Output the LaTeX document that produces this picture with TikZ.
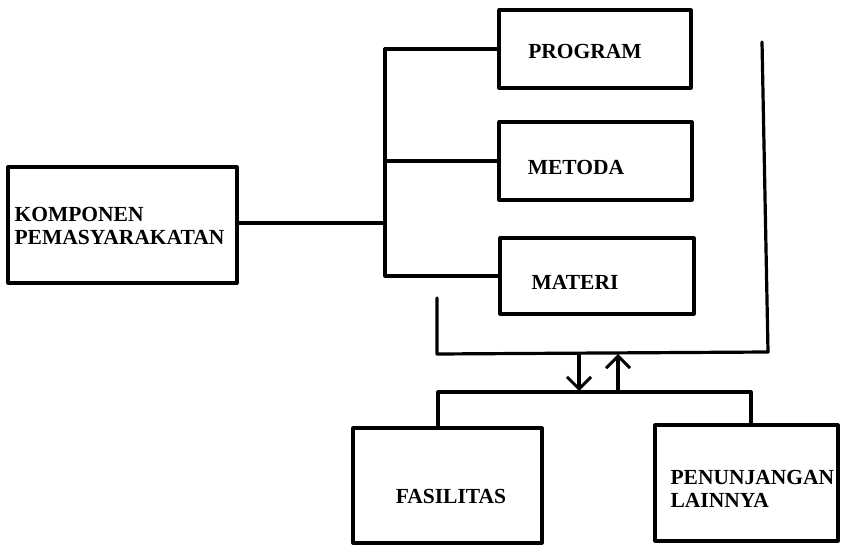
\documentclass[tikz,border=0pt]{standalone}
\usepackage{fontspec}
\setmainfont{Liberation Serif}
\usetikzlibrary{arrows.meta}
\begin{document}
\begin{tikzpicture}[x=1pt,y=-1pt,
  line width=3.2pt, line cap=round, line join=round,
  box/.style={draw, rectangle, inner sep=0pt},
  lbl/.style={inner sep=0pt, font=\bfseries\fontsize{21.5}{23}\selectfont, align=left},
  arr/.style={-{Straight Barb[length=12pt,width=24pt,line width=3pt]}}]
\useasboundingbox (0,0) rectangle (845,545);
% boxes
\node[box, minimum width=229pt, minimum height=116pt] (KOM) at (122.5,225) {};
\node[box, minimum width=192pt, minimum height=78pt] (PROG) at (595,49) {};
\node[box, minimum width=193pt, minimum height=78pt] (MET) at (595.5,161) {};
\node[box, minimum width=194pt, minimum height=76pt] (MAT) at (597,276) {};
\node[box, minimum width=189pt, minimum height=115pt] (FAS) at (447.5,485.5) {};
\node[box, minimum width=183pt, minimum height=116pt] (PEN) at (746.5,483) {};
% labels
\node[lbl, anchor=west] (tKOM) at (13,226) {KOMPONEN\\PEMASYARAKATAN};
\node[lbl] (tPROG) at (585,51) {PROGRAM};
\node[lbl] (tMET) at (576,167) {METODA};
\node[lbl] (tMAT) at (575,282) {MATERI};
\node[lbl] (tFAS) at (451,496) {FASILITAS};
\node[lbl, anchor=west] (tPEN) at (669,489) {PENUNJANGAN\\LAINNYA};
% bus
\coordinate (B) at (385,223);
\draw (KOM.east |- B) -- (B);
\draw (PROG.west) -- (PROG.west -| B) -- (MAT.west -| B) -- (MAT.west);
\draw (MET.west -| B) -- (MET.west);
% right line and bottom U
\coordinate (R1) at (762,42);
\coordinate (R2) at (768,352);
\coordinate (U1) at (437,298);
\coordinate (U2) at (437,354);
\draw (U1) -- (U2) -- (R2) -- (R1);
% arrows
\coordinate (D1) at (579,354);
\coordinate (D2) at (579,391);
\coordinate (P1) at (618,391);
\coordinate (P2) at (618,354);
\draw[arr] (D1) -- (D2);
\draw[arr] (P1) -- (P2);
% bracket
\coordinate (K1) at (438,392);
\coordinate (K2) at (751,392);
\draw (FAS.north -| K1) -- (K1) -- (K2) -- (PEN.north -| K2);
\end{tikzpicture}
\end{document}
